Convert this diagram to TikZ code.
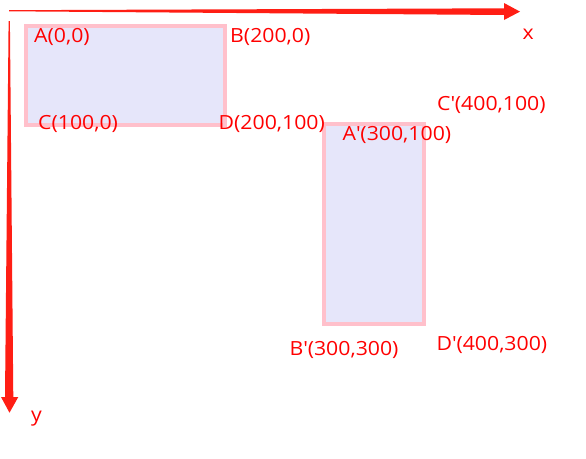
\documentclass[tikz,border=0pt]{standalone}
\usepackage{fontspec}
\setmainfont{Open Sans}[FakeStretch=1.09]
\definecolor{axisred}{RGB}{255,30,20}
\definecolor{lbl}{RGB}{255,0,0}
\definecolor{boxfill}{HTML}{E6E6FA}
\definecolor{boxline}{HTML}{FFC0CB}
\newcommand{\pq}{\textquotesingle}
\begin{document}
\begin{tikzpicture}[x=1pt,y=-1pt,
  lab/.style={anchor=base west,inner sep=0pt,text=lbl,font=\fontsize{19.5}{22}\selectfont},
  box/.style={fill=boxfill,draw=boxline,line width=4pt}]
\useasboundingbox[fill=white] (0,0) rectangle (586,458);
% rectangles
\draw[box] (25.5,25.5) rectangle (224.5,124.5);
\draw[box] (324,124) rectangle (424,324);
% x axis (tapered)
\fill[axisred] (9,10.2) -- (504,8.3) -- (504,3) -- (520,11.6) -- (504,20) -- (504,15) -- (9,11.3) -- cycle;
% y axis (tapered)
\fill[axisred] (8.6,21) -- (9.9,21) -- (13.3,397) -- (18.3,397) -- (9.5,412.7) -- (1,397) -- (5,397) -- cycle;
% labels
\node[lab] (A) at (34,42) {A(0,0)};
\node[lab] (B) at (230,42) {B(200,0)};
\node[lab] (C) at (38,129) {C(100,0)};
\node[lab] (D) at (218.5,129) {D(200,100)};
\node[lab] (Cp) at (437,110) {C\pq(400,100)};
\node[lab] (Ap) at (342.5,140) {A\pq(300,100)};
\node[lab] (Bp) at (289.5,355) {B\pq(300,300)};
\node[lab] (Dp) at (436.5,350) {D\pq(400,300)};
\node[lab] (xl) at (522.5,39) {x};
\node[lab] (yl) at (31,421) {y};
\end{tikzpicture}
\end{document}
